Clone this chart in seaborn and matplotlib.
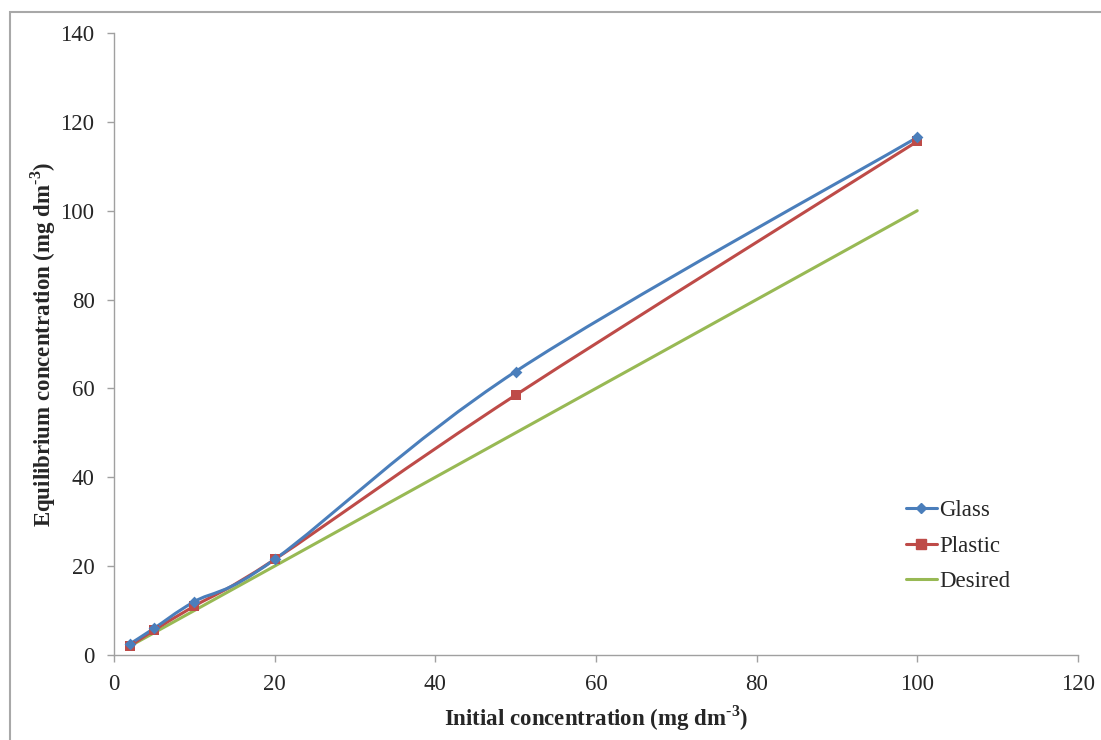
import matplotlib.pyplot as plt
import seaborn as sns
import pandas as pd
import numpy as np
from matplotlib.path import Path
from matplotlib.patches import PathPatch, Rectangle
from matplotlib.lines import Line2D

# data
initial = [2, 5, 10, 20, 50, 100]
glass = [2.5, 6.0, 12.0, 21.5, 63.8, 116.5]
plastic = [2.0, 5.6, 11.0, 21.5, 58.5, 115.6]
desired = [2, 5, 10, 20, 50, 100]

blue = '#4A7EBB'
red = '#BE4B48'
green = '#98B954'

sns.set_style('white')
plt.rcParams['font.family'] = ['Liberation Serif', 'DejaVu Serif']
plt.rcParams['mathtext.fontset'] = 'custom'
plt.rcParams['mathtext.rm'] = 'Liberation Serif'
plt.rcParams['mathtext.bf'] = 'Liberation Serif:bold'


def smooth_path(xs, ys):
    # Excel-style smoothed line: cubic bezier through every point
    pts = np.column_stack([xs, ys]).astype(float)
    n = len(pts)
    verts = [pts[0]]
    codes = [Path.MOVETO]
    for i in range(n - 1):
        p0 = pts[i - 1] if i > 0 else pts[i]
        p1 = pts[i]
        p2 = pts[i + 1]
        p3 = pts[i + 2] if i + 2 < n else pts[i + 1]
        c1 = p1 + (p2 - p0) / 6.0
        c2 = p2 - (p3 - p1) / 6.0
        verts += [c1, c2, p2]
        codes += [Path.CURVE4] * 3
    return Path(verts, codes)


df = pd.DataFrame({'initial': initial, 'glass': glass, 'plastic': plastic, 'desired': desired})

fig = plt.figure(figsize=(11.01, 7.4), dpi=100)
ax = fig.add_axes([0.1035, 0.1149, 0.8755, 0.8405])

sns.lineplot(data=df, x='initial', y='desired', ax=ax, color=green, linewidth=2.2)
for col, c in [('plastic', red), ('glass', blue)]:
    ax.add_patch(PathPatch(smooth_path(df['initial'], df[col]), facecolor='none',
                           edgecolor=c, linewidth=2.2, zorder=3))
sns.scatterplot(data=df, x='initial', y='plastic', ax=ax, color=red, marker='s',
                s=60, edgecolor=red, linewidth=0, zorder=4)
sns.scatterplot(data=df, x='initial', y='glass', ax=ax, color=blue, marker='D',
                s=36, edgecolor=blue, linewidth=0, zorder=5)

ax.set_xlim(0, 120)
ax.set_ylim(0, 140)
ax.set_xticks(range(0, 121, 20))
ax.set_yticks(range(0, 141, 20))
ax.tick_params(axis='both', labelsize=16.5, length=5, width=1, color='#A0A0A0',
               direction='out', bottom=True, left=True, pad=9)
sns.despine(ax=ax)
for s in ['left', 'bottom']:
    ax.spines[s].set_color('#A0A0A0')
    ax.spines[s].set_linewidth(1)

ax.set_xlabel('Initial concentration (mg dm$^{\\mathbf{\u2010}\\mathbf{3}}$)', fontsize=16.5,
              fontweight='bold', labelpad=6)
ax.set_ylabel('Equilibrium concentration (mg dm$^{\\mathbf{\u2010}\\mathbf{3}}$)', fontsize=16.5,
              fontweight='bold', labelpad=2)

handles = [
    Line2D([], [], color=blue, marker='D', markersize=5.5, linewidth=2.2),
    Line2D([], [], color=red, marker='s', markersize=7, linewidth=2.2),
    Line2D([], [], color=green, linewidth=2.2),
]
ax.legend(handles, ['Glass', 'Plastic', 'Desired'], loc='upper left',
          bbox_to_anchor=(0.8, 0.283), frameon=False, fontsize=16.5,
          handlelength=1.35, handletextpad=0.1, labelspacing=0.65)

fig.patches.append(Rectangle((10 / 1101, -0.1), 1.2, 1.1 - 12 / 740, transform=fig.transFigure,
                             fill=False, edgecolor='#A8A8A8', linewidth=1.5))

fig.savefig('out.png', dpi=100)
